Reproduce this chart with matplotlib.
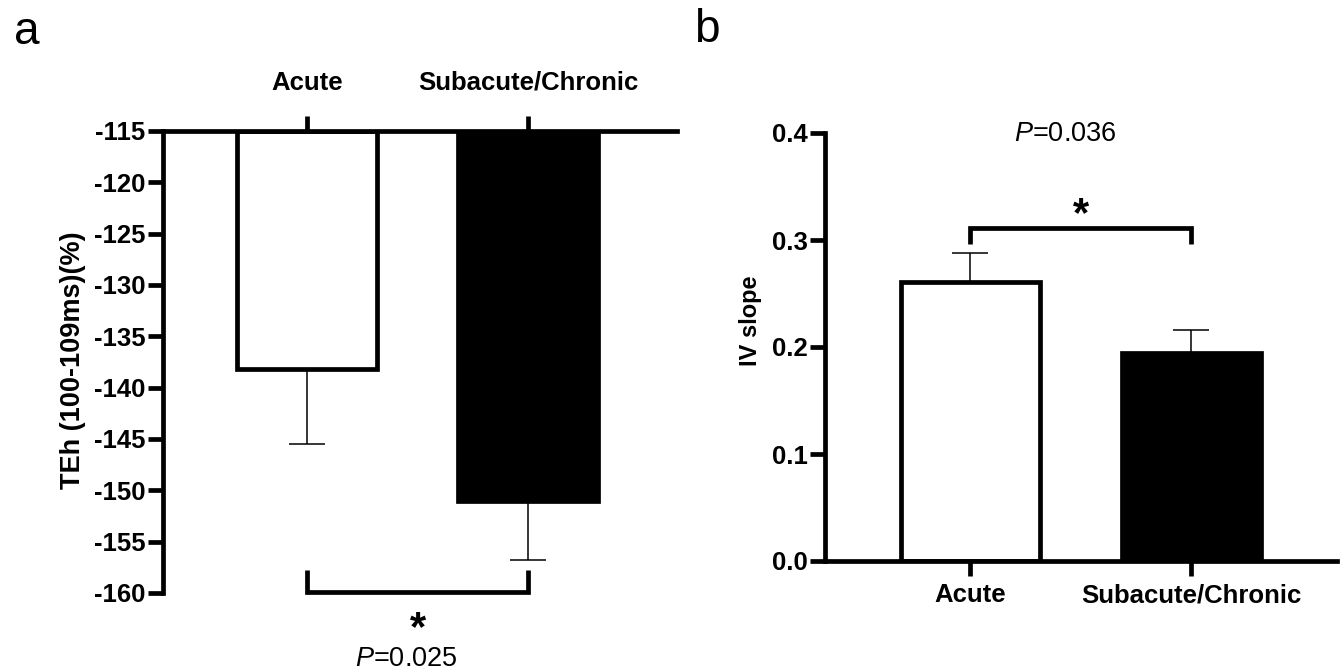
import matplotlib
matplotlib.use("Agg")
import matplotlib.pyplot as plt

plt.rcParams['font.family'] = ['Liberation Sans', 'DejaVu Sans']
plt.rcParams['mathtext.fontset'] = 'custom'
plt.rcParams['mathtext.it'] = 'Liberation Sans:italic'
plt.rcParams['mathtext.rm'] = 'Liberation Sans'

categories = ["Acute", "Subacute/Chronic"]
teh_means = [-138.2, -151.0]
teh_sem = [7.3, 5.8]
teh_ticks = [-115, -120, -125, -130, -135, -140, -145, -150, -155, -160]
iv_means = [0.261, 0.194]
iv_sem = [0.027, 0.022]
iv_ticks = [0.0, 0.1, 0.2, 0.3, 0.4]
p_a = "0.025"
p_b = "0.036"

colors = ["white", "black"]
LW = 3.4
W, H = 1341, 670
fig = plt.figure(figsize=(W / 100, H / 100), dpi=100)

def fx(px):
    return px / W

def fy(py):
    return 1 - py / H

tickfont = dict(fontsize=18.5, fontweight='bold')

# ---------- Panel a ----------
axa = fig.add_axes([fx(163), fy(593), fx(677) - fx(163), fy(131) - fy(593)])
x = list(range(len(categories)))
base = -115
axa.errorbar(x, teh_means, yerr=[teh_sem, [0, 0]], fmt='none', ecolor='black',
             elinewidth=1.1, capsize=13, capthick=1.1, zorder=1)
axa.bar(x, [m - base for m in teh_means], bottom=base, width=0.63,
        color=colors, edgecolor='black', linewidth=LW, zorder=2)
axa.set_ylim(-160, -115)
axa.set_xlim(-0.652, 1.674)
axa.set_yticks(teh_ticks)
axa.set_yticklabels([str(t) for t in teh_ticks], **tickfont)
axa.set_xticks(x)
axa.set_xticklabels(categories, **tickfont)
axa.xaxis.tick_top()
axa.tick_params(axis='x', direction='out', length=11, width=LW, pad=15)
axa.tick_params(axis='y', direction='out', length=11, width=LW, pad=1.5)
for s in ['right', 'bottom']:
    axa.spines[s].set_visible(False)
for s in ['left', 'top']:
    axa.spines[s].set_linewidth(LW)
axa.set_ylabel("TEh (100-109ms)(%)", fontsize=19.5, fontweight='bold')
axa.yaxis.set_label_coords(-0.150, 0.504)
# significance bracket
yb, ye = -159.9, -157.8
axa.plot([0, 0, 1, 1], [ye, yb, yb, ye], color='black', lw=LW, clip_on=False,
         solid_capstyle='butt', solid_joinstyle='miter', zorder=3)
axa.text(0.5, -163.5, "*", ha='center', va='center', fontsize=30, fontweight='bold')
axa.text(0.45, -166.4, r"$\it{P}$=" + p_a, ha='center', va='center', fontsize=19.5)
fig.text(fx(27), fy(32), "a", ha='center', va='center', fontsize=33)

# ---------- Panel b ----------
axb = fig.add_axes([fx(825), fy(561), fx(1337) - fx(825), fy(133) - fy(561)])
axb.errorbar(x, iv_means, yerr=[[0, 0], iv_sem], fmt='none', ecolor='black',
             elinewidth=1.1, capsize=13, capthick=1.1, zorder=1)
axb.bar(x, iv_means, width=0.63, color=colors, edgecolor='black', linewidth=LW, zorder=2)
axb.set_ylim(0, 0.4)
axb.set_xlim(-0.659, 1.66)
axb.set_yticks(iv_ticks)
axb.set_yticklabels([f"{t:.1f}" for t in iv_ticks], **tickfont)
axb.set_xticks(x)
axb.set_xticklabels(categories, **tickfont)
axb.tick_params(axis='x', direction='out', length=11, width=LW, pad=5)
axb.tick_params(axis='y', direction='out', length=11, width=LW, pad=1.5)
for s in ['right', 'top']:
    axb.spines[s].set_visible(False)
for s in ['left', 'bottom']:
    axb.spines[s].set_linewidth(LW)
axb.set_ylabel("IV slope", fontsize=17, fontweight='bold')
axb.yaxis.set_label_coords(-0.123, 0.561)
yb2, ye2 = 0.311, 0.296
axb.plot([0, 0, 1, 1], [ye2, yb2, yb2, ye2], color='black', lw=LW, clip_on=False,
         solid_capstyle='butt', solid_joinstyle='miter', zorder=3)
axb.text(0.5, 0.323, "*", ha='center', va='center', fontsize=30, fontweight='bold')
axb.text(0.43, 0.399, r"$\it{P}$=" + p_b, ha='center', va='center', fontsize=19.5)
fig.text(fx(707), fy(30), "b", ha='center', va='center', fontsize=33)

fig.savefig("out.png", dpi=100)
